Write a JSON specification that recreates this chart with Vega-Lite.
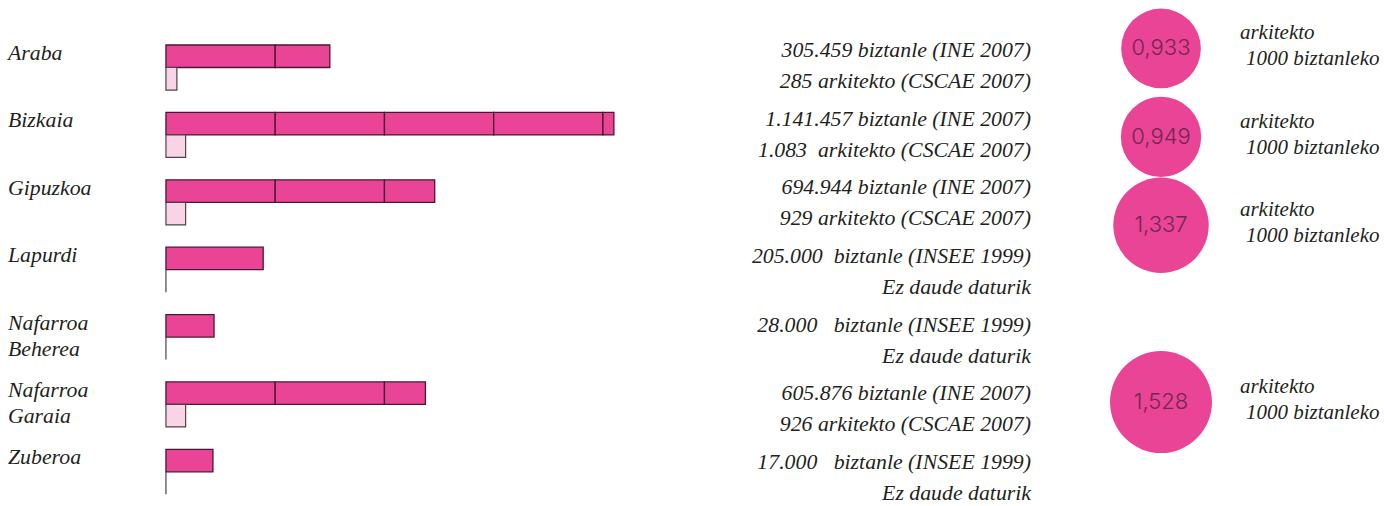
{
  "$schema": "https://vega.github.io/schema/vega-lite/v6.json",
  "width": 1384,
  "height": 506,
  "autosize": {"type": "fit", "contains": "padding"},
  "padding": 0,
  "background": "white",
  "config": {
    "view": {"stroke": null},
    "locale": {"number": {"decimal": ",", "thousands": ".", "grouping": [3], "currency": ["", " €"]}}
  },
  "datasets": {
    "blocks": [
      {"region": "Araba", "kind": "pop", "seg": 1, "blocks": 1},
      {"region": "Araba", "kind": "pop", "seg": 2, "blocks": 0.5},
      {"region": "Bizkaia", "kind": "pop", "seg": 1, "blocks": 1},
      {"region": "Bizkaia", "kind": "pop", "seg": 2, "blocks": 1},
      {"region": "Bizkaia", "kind": "pop", "seg": 3, "blocks": 1},
      {"region": "Bizkaia", "kind": "pop", "seg": 4, "blocks": 1},
      {"region": "Bizkaia", "kind": "pop", "seg": 5, "blocks": 0.1},
      {"region": "Gipuzkoa", "kind": "pop", "seg": 1, "blocks": 1},
      {"region": "Gipuzkoa", "kind": "pop", "seg": 2, "blocks": 1},
      {"region": "Gipuzkoa", "kind": "pop", "seg": 3, "blocks": 0.46},
      {"region": "Lapurdi", "kind": "pop", "seg": 1, "blocks": 0.89},
      {"region": "Nafarroa Beherea", "kind": "pop", "seg": 1, "blocks": 0.44},
      {"region": "Nafarroa Garaia", "kind": "pop", "seg": 1, "blocks": 1},
      {"region": "Nafarroa Garaia", "kind": "pop", "seg": 2, "blocks": 1},
      {"region": "Nafarroa Garaia", "kind": "pop", "seg": 3, "blocks": 0.375},
      {"region": "Zuberoa", "kind": "pop", "seg": 1, "blocks": 0.43}
    ],
    "regions": [
      {"region": "Araba", "label": "Araba", "kind": "arch", "archBox": 0.1, "line1": "305.459 biztanle (INE 2007)", "line2": "285 arkitekto (CSCAE 2007)"},
      {"region": "Bizkaia", "label": "Bizkaia", "kind": "arch", "archBox": 0.18, "line1": "1.141.457 biztanle (INE 2007)", "line2": "1.083\u00a0 arkitekto (CSCAE 2007)"},
      {"region": "Gipuzkoa", "label": "Gipuzkoa", "kind": "arch", "archBox": 0.18, "line1": "694.944 biztanle (INE 2007)", "line2": "929 arkitekto (CSCAE 2007)"},
      {"region": "Lapurdi", "label": "Lapurdi", "kind": "arch", "archBox": 0, "line1": "205.000\u00a0 biztanle (INSEE 1999)", "line2": "Ez daude daturik"},
      {"region": "Nafarroa Beherea", "label": "Nafarroa\nBeherea", "kind": "arch", "archBox": 0, "line1": "28.000\u00a0\u00a0 biztanle (INSEE 1999)", "line2": "Ez daude daturik"},
      {"region": "Nafarroa Garaia", "label": "Nafarroa\nGaraia", "kind": "arch", "archBox": 0.18, "line1": "605.876 biztanle (INE 2007)", "line2": "926 arkitekto (CSCAE 2007)"},
      {"region": "Zuberoa", "label": "Zuberoa", "kind": "arch", "archBox": 0, "line1": "17.000\u00a0\u00a0 biztanle (INSEE 1999)", "line2": "Ez daude daturik"}
    ],
    "ratios": [
      {"region": "Araba", "ratio": 0.933},
      {"region": "Bizkaia", "ratio": 0.949},
      {"region": "Gipuzkoa", "ratio": 1.337},
      {"region": "Nafarroa Garaia", "ratio": 1.528}
    ]
  },
  "resolve": {"scale": {"y": "independent", "yOffset": "independent"}},
  "layer": [
    {
      "data": {"name": "blocks"},
      "mark": {"type": "bar", "fill": "#e94496", "stroke": "#4b1733", "strokeWidth": 1.3},
      "encoding": {
        "y": {"field": "region", "type": "nominal", "axis": null,
              "scale": {"type": "band", "domain": ["Araba", "Bizkaia", "Gipuzkoa", "Lapurdi", "Nafarroa Beherea", "Nafarroa Garaia", "Zuberoa"], "paddingInner": 0.332, "paddingOuter": 0.4207, "align": 0.794}},
        "yOffset": {"field": "kind", "type": "nominal", "scale": {"type": "band", "domain": ["pop", "arch"], "paddingInner": 0, "paddingOuter": 0}},
        "x": {"field": "blocks", "type": "quantitative", "stack": "zero", "axis": null,
              "scale": {"domain": [-1.519, 11.149], "nice": false, "zero": false}},
        "detail": {"field": "seg"},
        "order": {"field": "seg"}
      }
    },
    {
      "data": {"name": "regions"},
      "mark": {"type": "bar", "fill": "#f9d3e6", "stroke": "#4d4348", "strokeWidth": 1.2},
      "encoding": {
        "y": {"field": "region", "type": "nominal", "axis": null,
              "scale": {"type": "band", "domain": ["Araba", "Bizkaia", "Gipuzkoa", "Lapurdi", "Nafarroa Beherea", "Nafarroa Garaia", "Zuberoa"], "paddingInner": 0.332, "paddingOuter": 0.4207, "align": 0.794}},
        "yOffset": {"field": "kind", "type": "nominal", "scale": {"type": "band", "domain": ["pop", "arch"], "paddingInner": 0, "paddingOuter": 0}},
        "x": {"field": "archBox", "type": "quantitative", "stack": null}
      }
    },
    {
      "data": {"name": "regions"},
      "mark": {"type": "text", "font": "Liberation Serif", "fontStyle": "italic", "fontSize": 21.8, "color": "#231f20", "align": "left", "baseline": "alphabetic", "lineBreak": "\n", "lineHeight": 26, "dy": -7.5},
      "encoding": {
        "y": {"field": "region", "type": "nominal", "axis": null,
              "scale": {"type": "band", "domain": ["Araba", "Bizkaia", "Gipuzkoa", "Lapurdi", "Nafarroa Beherea", "Nafarroa Garaia", "Zuberoa"], "paddingInner": 0.332, "paddingOuter": 0.4207, "align": 0.794}},
        "x": {"datum": -1.446, "type": "quantitative"},
        "text": {"field": "label"}
      }
    },
    {
      "data": {"name": "regions"},
      "mark": {"type": "text", "font": "Liberation Serif", "fontStyle": "italic", "fontSize": 21.8, "color": "#231f20", "align": "right", "baseline": "alphabetic", "dy": -8.5},
      "encoding": {
        "y": {"field": "region", "type": "nominal", "axis": null,
              "scale": {"type": "band", "domain": ["Araba", "Bizkaia", "Gipuzkoa", "Lapurdi", "Nafarroa Beherea", "Nafarroa Garaia", "Zuberoa"], "paddingInner": 0.332, "paddingOuter": 0.3503, "align": 0.885}},
        "x": {"datum": 7.918, "type": "quantitative"},
        "text": {"field": "line1"}
      }
    },
    {
      "data": {"name": "regions"},
      "mark": {"type": "text", "font": "Liberation Serif", "fontStyle": "italic", "fontSize": 21.8, "color": "#231f20", "align": "right", "baseline": "alphabetic", "dy": 22.5},
      "encoding": {
        "y": {"field": "region", "type": "nominal", "axis": null,
              "scale": {"type": "band", "domain": ["Araba", "Bizkaia", "Gipuzkoa", "Lapurdi", "Nafarroa Beherea", "Nafarroa Garaia", "Zuberoa"], "paddingInner": 0.332, "paddingOuter": 0.3503, "align": 0.885}},
        "x": {"datum": 7.918, "type": "quantitative"},
        "text": {"field": "line2"}
      }
    },
    {
      "data": {"name": "ratios"},
      "mark": {"type": "circle", "fill": "#e94496", "opacity": 1, "strokeWidth": 0},
      "encoding": {
        "y": {"field": "region", "type": "nominal", "axis": null,
              "scale": {"type": "point", "domain": ["Araba", "Bizkaia", "Gipuzkoa", "Lapurdi", "Nafarroa Garaia"], "padding": 0.862, "align": 0.318}},
        "x": {"datum": 9.108, "type": "quantitative"},
        "size": {"field": "ratio", "type": "quantitative", "legend": null, "scale": {"domain": [0, 1.528], "range": [0, 10400], "zero": true}}
      }
    },
    {
      "data": {"name": "ratios"},
      "mark": {"type": "text", "font": "Inter", "fontWeight": 300, "fontSize": 22, "color": "#5e2246", "opacity": 0.85, "align": "center", "baseline": "middle"},
      "encoding": {
        "y": {"field": "region", "type": "nominal", "axis": null,
              "scale": {"type": "point", "domain": ["Araba", "Bizkaia", "Gipuzkoa", "Lapurdi", "Nafarroa Garaia"], "padding": 0.862, "align": 0.318}},
        "x": {"datum": 9.108, "type": "quantitative"},
        "text": {"field": "ratio", "type": "quantitative", "format": ".3f"}
      }
    },
    {
      "data": {"name": "ratios"},
      "mark": {"type": "text", "font": "Liberation Serif", "fontStyle": "italic", "fontSize": 21, "color": "#231f20", "align": "left", "baseline": "alphabetic", "dy": -9, "text": "arkitekto"},
      "encoding": {
        "y": {"field": "region", "type": "nominal", "axis": null,
              "scale": {"type": "point", "domain": ["Araba", "Bizkaia", "Gipuzkoa", "Lapurdi", "Nafarroa Garaia"], "padding": 0.862, "align": 0.318}},
        "x": {"datum": 9.83, "type": "quantitative"}
      }
    },
    {
      "data": {"name": "ratios"},
      "mark": {"type": "text", "font": "Liberation Serif", "fontStyle": "italic", "fontSize": 21, "color": "#231f20", "align": "left", "baseline": "alphabetic", "dy": 17, "text": "1000 biztanleko"},
      "encoding": {
        "y": {"field": "region", "type": "nominal", "axis": null,
              "scale": {"type": "point", "domain": ["Araba", "Bizkaia", "Gipuzkoa", "Lapurdi", "Nafarroa Garaia"], "padding": 0.862, "align": 0.318}},
        "x": {"datum": 9.885, "type": "quantitative"}
      }
    }
  ]
}
